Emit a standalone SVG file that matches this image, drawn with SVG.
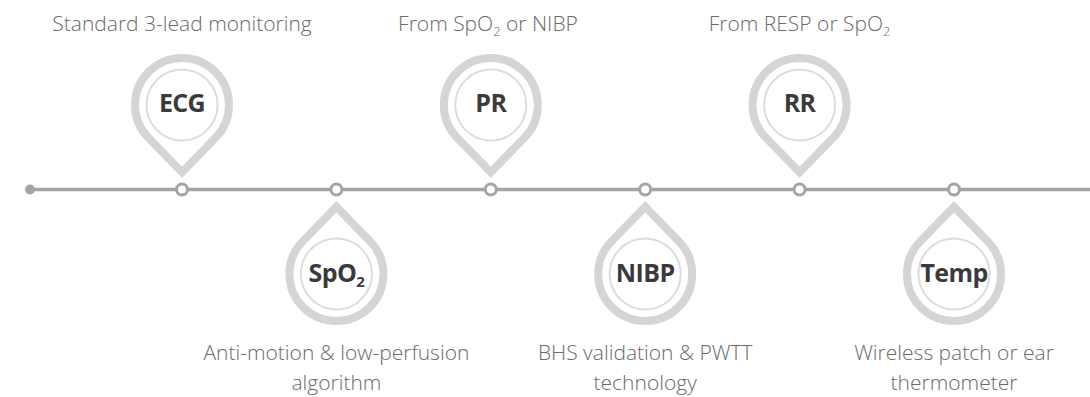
<svg xmlns="http://www.w3.org/2000/svg" width="1090" height="397" viewBox="0 0 1090 397">
<defs>
<style>
.desc{font-family:"Open Sans","Liberation Sans",sans-serif;font-weight:300;font-size:21px;fill:#6a6a6a;text-anchor:middle}
.lbl{font-family:"Open Sans","Liberation Sans",sans-serif;font-weight:700;font-size:25px;letter-spacing:-0.6px;fill:#3a3a3c;text-anchor:middle}
.ring{fill:#fff;stroke:#d5d5d7;stroke-width:8;stroke-linejoin:miter;stroke-miterlimit:10}
.inner{fill:#fff;stroke:#dcdcdd;stroke-width:2}
.axis{stroke:#a2a4aa;stroke-width:3.5;fill:none}
.node{fill:#fff;stroke:#a2a4aa;stroke-width:3}
</style>
<path id="pinDown" d="M0,67.3 L33.6,32.8 A47,47 0 1 0 -33.6,32.8 Z"/>
<path id="pinUp" d="M0,-67.3 L33.6,-32.8 A47,47 0 1 1 -33.6,-32.8 Z"/>
</defs>
<rect width="1090" height="397" fill="#fff"/>
<g id="connectors">
<line class="axis" x1="30" y1="189.5" x2="1090" y2="189.5"/>
<circle cx="30" cy="189.5" r="5" fill="#a2a4aa"/>
<circle class="node" cx="182" cy="189.5" r="5.5"/>
<circle class="node" cx="336.4" cy="189.5" r="5.5"/>
<circle class="node" cx="490.8" cy="189.5" r="5.5"/>
<circle class="node" cx="645.2" cy="189.5" r="5.5"/>
<circle class="node" cx="799.6" cy="189.5" r="5.5"/>
<circle class="node" cx="954" cy="189.5" r="5.5"/>
</g>
<g id="ecg">
<use href="#pinDown" class="ring" x="182" y="105"/>
<circle class="inner" cx="182" cy="105" r="35.5"/>
<text class="lbl" x="182" y="112">ECG</text>
<text class="desc" x="182" y="31">Standard 3-lead monitoring</text>
</g>
<g id="spo2">
<use href="#pinUp" class="ring" x="336.4" y="274"/>
<circle class="inner" cx="336.4" cy="274" r="35.5"/>
<text class="lbl" x="336.4" y="282">SpO<tspan font-size="15" dy="5">2</tspan></text>
<text class="desc" x="336.4" y="360">Anti-motion &amp; low-perfusion</text>
<text class="desc" x="336.4" y="390">algorithm</text>
</g>
<g id="pr">
<use href="#pinDown" class="ring" x="490.8" y="105"/>
<circle class="inner" cx="490.8" cy="105" r="35.5"/>
<text class="lbl" x="490.8" y="112">PR</text>
<text class="desc" x="488" y="31">From SpO<tspan font-size="13" dy="5">2</tspan><tspan dy="-5"> or NIBP</tspan></text>
</g>
<g id="nibp">
<use href="#pinUp" class="ring" x="645.2" y="274"/>
<circle class="inner" cx="645.2" cy="274" r="35.5"/>
<text class="lbl" x="645.2" y="282">NIBP</text>
<text class="desc" x="645.2" y="360">BHS validation &amp; PWTT</text>
<text class="desc" x="645.2" y="390">technology</text>
</g>
<g id="rr">
<use href="#pinDown" class="ring" x="799.6" y="105"/>
<circle class="inner" cx="799.6" cy="105" r="35.5"/>
<text class="lbl" x="799.6" y="112">RR</text>
<text class="desc" x="799.6" y="31">From RESP or SpO<tspan font-size="13" dy="5">2</tspan></text>
</g>
<g id="temp">
<use href="#pinUp" class="ring" x="954" y="274"/>
<circle class="inner" cx="954" cy="274" r="35.5"/>
<text class="lbl" x="954" y="282">Temp</text>
<text class="desc" x="954" y="360">Wireless patch or ear</text>
<text class="desc" x="954" y="390">thermometer</text>
</g>
</svg>
